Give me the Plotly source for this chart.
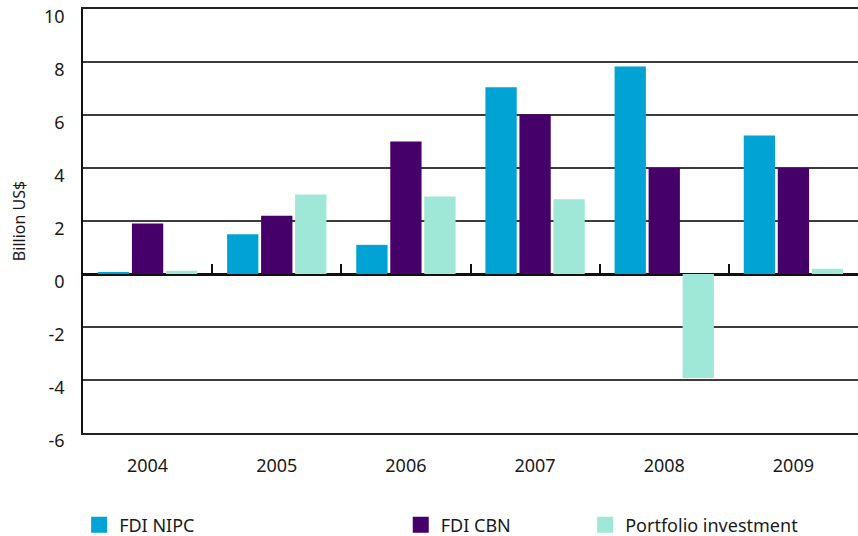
import plotly.graph_objects as go

years = ['2004', '2005', '2006', '2007', '2008', '2009']
fdi_nipc = [0.04, 1.5, 1.1, 7.05, 7.83, 5.23]
fdi_cbn = [1.91, 2.2, 5.0, 6.03, 4.0, 4.0]
portfolio = [0.12, 3.0, 2.92, 2.82, -3.92, 0.2]

y_ticks = [-6, -4, -2, 0, 2, 4, 6, 8, 10]
y_labels = ['-6', '-4', '-2', '0', '2', '4', '6', '8', '10']

names = ['FDI NIPC', 'FDI CBN', 'Portfolio investment']
colors = ['#00A3D3', '#45006A', '#9FE7D7']
legends = ['legend', 'legend2', 'legend3']

fig = go.Figure()
for name, vals, col in zip(names, [fdi_nipc, fdi_cbn, portfolio], colors):
    fig.add_trace(go.Bar(x=years, y=vals, name=name, marker_color=col,
                         marker_line_width=0, showlegend=False))

# legend entries (bigger square markers than bar default)
for name, col, lg in zip(names, colors, legends):
    fig.add_trace(go.Scatter(x=[None], y=[None], mode='markers', name=name,
                             marker=dict(symbol='square', size=16, color=col),
                             legend=lg, showlegend=True))

fnt = dict(family='Noto Sans', size=18, color='#1a1a1a')

fig.update_layout(
    width=858, height=536,
    margin=dict(l=83, r=0, t=9, b=103, autoexpand=False),
    plot_bgcolor='white', paper_bgcolor='white',
    barmode='group', bargap=0.21, bargroupgap=0.08,
    font=fnt,
    legend=dict(x=-0.005, y=-0.217, xanchor='left', yanchor='middle', font=fnt,
                itemsizing='trace'),
    legend2=dict(x=0.41, y=-0.217, xanchor='left', yanchor='middle', font=fnt,
                 itemsizing='trace'),
    legend3=dict(x=0.648, y=-0.217, xanchor='left', yanchor='middle', font=fnt,
                 itemsizing='trace'),
)

fig.update_yaxes(
    range=[-6, 10], tickvals=y_ticks, ticktext=y_labels, automargin=False,
    showgrid=True, gridcolor='#3c3c3c', gridwidth=1.5,
    zeroline=True, zerolinecolor='#111111', zerolinewidth=2.5,
    showline=True, linecolor='#111111', linewidth=1.5,
    ticks='', ticklabelstandoff=13, ticklabelshift=8,
    title=dict(text='Billion US$', font=dict(family='Noto Sans', size=16, color='#1a1a1a'),
               standoff=14),
)
fig.update_xaxes(
    type='category', categoryarray=years, automargin=False,
    showline=True, mirror=True, linecolor='#222222', linewidth=1.5,
    ticks='', ticklabelstandoff=16, showgrid=False,
)

# small tick marks on the zero line between the year groups
fig.update_layout(xaxis2=dict(
    overlaying='x', matches='x', type='category', anchor='free', position=0.375,
    side='bottom', showticklabels=False, ticks='inside', tickson='boundaries',
    ticklen=10, tickwidth=1.5, tickcolor='#111111', showline=False, showgrid=False,
))
fig.add_trace(go.Scatter(x=years, y=[None] * len(years), xaxis='x2', yaxis='y',
                         mode='markers', showlegend=False, hoverinfo='skip'))

# drop the default body margin so the figure sits at the page corner
fig.write_html('out.html', config={'displayModeBar': False},
               post_script="document.body.style.margin='0';")
